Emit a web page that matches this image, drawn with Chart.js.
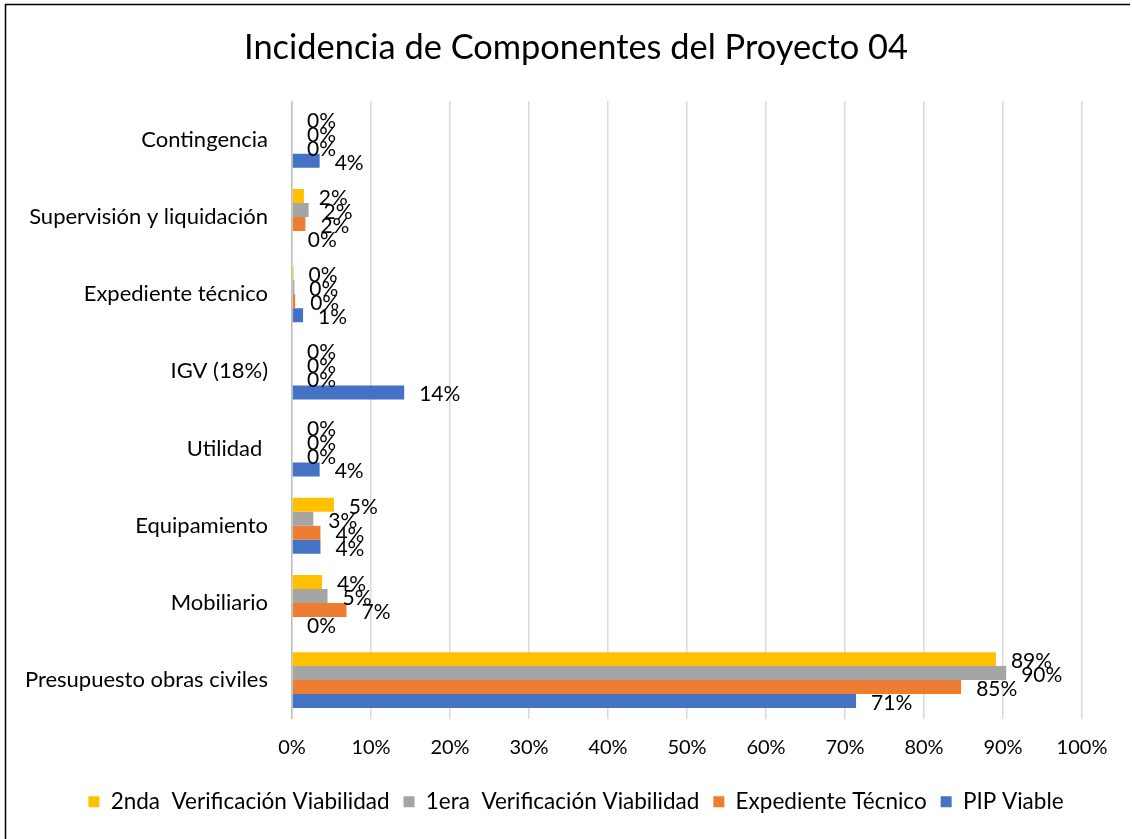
<!DOCTYPE html>
<html>
<head>
<meta charset="utf-8">
<script src="https://cdn.jsdelivr.net/npm/chart.js@4.4.1/dist/chart.umd.min.js"></script>
<style>
  html, body { margin: 0; padding: 0; background: #fff; }
  canvas { display: block; }
</style>
</head>
<body>
<canvas id="chart" width="1132" height="839"></canvas>
<script>
// datos del gráfico (porcentajes)
const categories = ['Contingencia', 'Supervisión y liquidación', 'Expediente técnico', 'IGV (18%)', 'Utilidad ', 'Equipamiento', 'Mobiliario', 'Presupuesto obras civiles'];
const seriesNames = ['2nda  Verificación Viabilidad', '1era  Verificación Viabilidad', 'Expediente Técnico', 'PIP Viable'];
const segundaVerif = [0, 1.5, 0.2, 0, 0, 5.3, 3.8, 89.1];
const primeraVerif = [0, 2.1, 0.3, 0, 0, 2.7, 4.5, 90.4];
const expedienteTec = [0, 1.7, 0.4, 0, 0, 3.6, 6.9, 84.7];
const pipViable = [3.5, 0.1, 1.4, 14.2, 3.5, 3.6, 0, 71.4];
const xTickLabels = ['0%', '10%', '20%', '30%', '40%', '50%', '60%', '70%', '80%', '90%', '100%'];

const colors = ['#FFC000', '#A5A5A5', '#ED7D31', '#4472C4'];
const FONT = 'Lato';

// marco del gráfico
const frame = {
  id: 'frame',
  beforeDraw(chart) {
    const ctx = chart.ctx;
    ctx.save();
    ctx.fillStyle = '#fff';
    ctx.fillRect(0, 0, chart.width, chart.height);
    ctx.strokeStyle = '#000';
    ctx.lineWidth = 1.5;
    ctx.beginPath();
    ctx.moveTo(5.5, chart.height);
    ctx.lineTo(5.5, 4.5);
    ctx.lineTo(1130, 4.5);
    ctx.stroke();
    ctx.restore();
  }
};

// etiquetas de valor al final de cada barra
const valueLabels = {
  id: 'valueLabels',
  afterDatasetsDraw(chart) {
    const ctx = chart.ctx;
    ctx.save();
    ctx.font = '21px ' + FONT;
    ctx.fillStyle = '#000';
    ctx.textAlign = 'left';
    ctx.textBaseline = 'middle';
    chart.data.datasets.forEach((ds, i) => {
      chart.getDatasetMeta(i).data.forEach((bar, j) => {
        ctx.fillText(Math.round(ds.data[j]) + '%', bar.x + 15, bar.y + 2);
      });
    });
    ctx.restore();
  }
};

const chart = new Chart(document.getElementById('chart'), {
  type: 'bar',
  data: {
    labels: categories,
    datasets: [segundaVerif, primeraVerif, expedienteTec, pipViable].map((d, i) => ({
      label: seriesNames[i],
      data: d,
      backgroundColor: colors[i],
      borderWidth: 0,
      categoryPercentage: 0.725,
      barPercentage: 1
    }))
  },
  options: {
    indexAxis: 'y',
    responsive: false,
    animation: false,
    devicePixelRatio: 1,
    layout: { padding: { top: 10, bottom: 16, left: 25, right: 5 } },
    plugins: {
      title: {
        display: true,
        text: 'Incidencia de Componentes del Proyecto 04',
        color: '#000',
        font: { family: FONT, size: 34.4, weight: 'normal' },
        padding: { top: 17.5, bottom: 32.5 }
      },
      legend: {
        position: 'bottom',
        labels: {
          color: '#000',
          font: { family: FONT, size: 22.5 },
          boxWidth: 11,
          boxHeight: 11,
          padding: 14
        }
      },
      tooltip: { enabled: false }
    },
    scales: {
      x: {
        min: 0,
        max: 100,
        ticks: {
          stepSize: 10,
          color: '#000',
          font: { family: FONT, size: 20 },
          padding: 17,
          maxRotation: 0,
          autoSkip: false,
          callback: (v, i) => xTickLabels[i]
        },
        grid: { color: '#d9d9d9', lineWidth: 1.5, drawTicks: false },
        border: { display: false },
        afterFit: s => { s.height = 57.8; }
      },
      y: {
        ticks: {
          color: '#000',
          font: { family: FONT, size: 22 },
          padding: 16,
          autoSkip: false
        },
        grid: { display: false },
        border: { display: true, color: '#bfbfbf', width: 1.5 },
        afterFit: s => { s.width = 267; }
      },
      y2: {
        type: 'category',
        position: 'right',
        ticks: { display: false },
        grid: { display: false },
        border: { display: false },
        afterFit: s => { s.width = 45; }
      }
    }
  },
  plugins: [frame, valueLabels]
});
</script>
</body>
</html>
